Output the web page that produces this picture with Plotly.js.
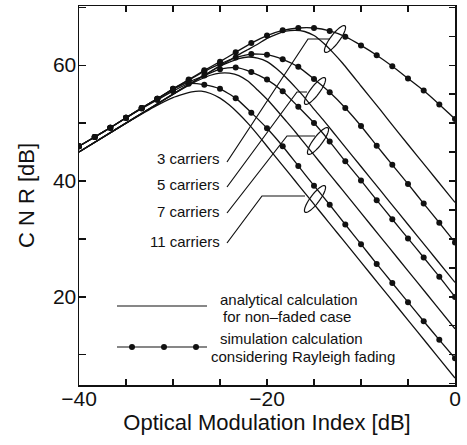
<!DOCTYPE html>
<html><head><meta charset="utf-8">
<script src="https://cdn.plot.ly/plotly-3.0.1.min.js"></script>
<style>html,body{margin:0;padding:0;background:#fff}</style>
</head><body><div id="chart" style="width:467px;height:445px"></div>
<script>
// ---- data ----
const xSim = [-40, -38.33, -36.67, -35, -33.33, -31.67, -30, -28.33, -26.67, -25, -23.33, -21.67, -20, -18.33, -16.67, -15, -13.33, -11.67, -10, -8.33, -6.67, -5, -3.33, -1.67, 0];
const sim3  = [46.0, 47.6, 49.2, 50.9, 52.6, 54.2, 55.9, 57.5, 59.1, 60.6, 62.2, 63.8, 65.1, 66.0, 66.4, 66.4, 65.9, 64.9, 63.4, 61.7, 59.8, 57.7, 55.6, 53.2, 50.7];
const sim5  = [46.0, 47.6, 49.2, 50.9, 52.6, 54.2, 55.9, 57.4, 58.9, 60.2, 61.3, 61.9, 61.8, 61.0, 59.7, 57.6, 55.3, 52.6, 49.5, 46.1, 42.8, 39.5, 36.1, 32.8, 29.4];
const sim7  = [46.0, 47.6, 49.2, 50.9, 52.6, 54.2, 55.8, 57.1, 58.2, 59.3, 59.6, 58.8, 57.5, 55.5, 52.8, 50.0, 46.8, 43.4, 40.1, 36.7, 33.4, 30.1, 26.8, 23.5, 20.0];
const sim11 = [46.0, 47.6, 49.2, 50.9, 52.5, 54.0, 55.5, 56.8, 56.6, 55.9, 54.3, 51.8, 49.1, 46.0, 42.6, 39.2, 35.9, 32.5, 29.1, 25.7, 22.4, 19.1, 15.8, 12.6, 9.4];

const xAna = [-40, -36, -32, -30, -28, -27, -26, -25, -24, -23, -22, -21, -20, -19, -18, -17, -16, -15, -14, -13, -12, -10, -8, -6, -4, -2, 0];
const ana3  = [45, 49, 53, 55, 57, 57.95, 58.9, 59.9, 60.8, 61.8, 62.7, 63.6, 64.6, 65.3, 65.85, 66.0, 65.8, 65.1, 63.8, 62.2, 60.4, 56.4, 52.4, 48.3, 44.3, 40.3, 36.3];
const ana5  = [45, 49, 53, 55, 56.95, 57.9, 58.9, 59.8, 60.5, 61.1, 61.4, 61.2, 60.6, 59.4, 57.9, 56.2, 54.4, 52.4, 50.5, 48.5, 46.5, 42.5, 38.5, 34.5, 30.5, 26.5, 22.5];
const ana7  = [45, 49, 52.95, 54.95, 56.8, 57.6, 58.25, 58.6, 58.6, 58.2, 57.2, 55.7, 54.1, 52.3, 50.4, 48.5, 46.5, 44.5, 42.5, 40.5, 38.5, 34.5, 30.5, 26.5, 22.5, 18.5, 14.5];
const ana11 = [45, 49, 52.8, 54.4, 55.4, 55.5, 55.1, 54.3, 53.1, 51.6, 49.9, 48.0, 46.0, 44.0, 42.0, 40.0, 38.0, 36.0, 34.0, 32.0, 30.0, 26.0, 22.0, 18.0, 14.0, 10.0, 6.0];

const carrierLabels = ['3 carriers', '5 carriers', '7 carriers', '11 carriers'];
const legendText = ['analytical calculation', 'for non\u2013faded case', 'simulation calculation', 'considering Rayleigh fading'];
const xTickVals = [-40, -35, -30, -25, -20, -15, -10, -5, 0];
const xTickText = ['\u221240', '', '', '', '\u221220', '', '', '', '0'];
const yTickVals = [10, 20, 30, 40, 50, 60, 70];
const yTickText = ['', '20', '', '40', '', '60', ''];
const yRightTicks = [5, 10, 15, 20, 25, 30, 35, 40, 45, 50, 55, 60, 65, 70];

// ---- geometry helpers (decorations only) ----
const W = 467, H = 445;
const L = 79, R = 455, T = 6, B = 385;
const XR = [-40, 0], YR = [4.8, 70.2];
function dx(px) { return XR[0] + (px - L) * (XR[1] - XR[0]) / (R - L); }
function dy(py) { return YR[1] - (py - T) * (YR[1] - YR[0]) / (B - T); }
function ellipsePath(cx, cy, a, b, deg) {
  const th = deg * Math.PI / 180;
  const pts = [];
  for (let i = 0; i < 48; i++) {
    const t = 2 * Math.PI * i / 48;
    const ex = a * Math.cos(t), ey = b * Math.sin(t);
    const px = cx + ex * Math.cos(th) - ey * Math.sin(th);
    const py = cy - (ex * Math.sin(th) + ey * Math.cos(th));
    pts.push(dx(px).toFixed(3) + ',' + dy(py).toFixed(3));
  }
  return 'M' + pts.join('L') + 'Z';
}
function polyPath(list) {
  return 'M' + list.map(p => dx(p[0]).toFixed(3) + ',' + dy(p[1]).toFixed(3)).join('L');
}

const FONT = 'Liberation Sans, Arial, Helvetica, sans-serif';
const lineStyle = {color: '#111', width: 1.3};

function simTrace(y) {
  return {x: xSim, y: y, type: 'scatter', mode: 'lines+markers', line: Object.assign({shape: 'spline', smoothing: 0.5}, lineStyle),
          marker: {color: '#111', size: 6}, hoverinfo: 'skip', showlegend: false};
}
function anaTrace(y, axis) {
  return {x: xAna, y: y, type: 'scatter', mode: 'lines', line: Object.assign({shape: 'spline', smoothing: 0.5}, lineStyle),
          hoverinfo: 'skip', showlegend: false, yaxis: axis || 'y'};
}

const data = [
  anaTrace(ana3, 'y2'), anaTrace(ana5), anaTrace(ana7), anaTrace(ana11),
  simTrace(sim3), simTrace(sim5), simTrace(sim7), simTrace(sim11)
];

const shapes = [];
const annotations = [];
const blk = {color: '#111', width: 1.2};
// ellipses
[[335, 39], [315, 91], [318, 141], [315, 199]].forEach(c => {
  shapes.push({type: 'path', xref: 'x', yref: 'y', path: ellipsePath(c[0], c[1], 16.5, 4.5, 53), line: blk});
});
// leader lines
const leaders = [
  [[227, 162], [308, 39], [330, 39]],
  [[227, 187], [297, 92], [307, 92]],
  [[227, 213], [287, 136], [315, 136]],
  [[227, 243], [262, 196], [305, 196]]
];
leaders.forEach(l => shapes.push({type: 'path', xref: 'x', yref: 'y', path: polyPath(l), line: blk}));
// carrier labels
const labelY = [158, 184, 211, 241];
carrierLabels.forEach((t, i) => annotations.push({
  text: t, x: dx(222), y: dy(labelY[i]), xref: 'x', yref: 'y', xanchor: 'right', yanchor: 'middle',
  showarrow: false, font: {family: FONT, size: 15, color: '#111'}
}));
// legend samples
shapes.push({type: 'line', xref: 'x', yref: 'y', x0: dx(117), x1: dx(207), y0: dy(306), y1: dy(306), line: blk});
shapes.push({type: 'line', xref: 'x', yref: 'y', x0: dx(117), x1: dx(207), y0: dy(347), y1: dy(347), line: blk});
[132, 164, 196].forEach(px => shapes.push({
  type: 'circle', xref: 'x', yref: 'y', xsizemode: 'pixel', ysizemode: 'pixel',
  xanchor: dx(px), yanchor: dy(347), x0: -3, x1: 3, y0: -3, y1: 3,
  fillcolor: '#111', line: {color: '#111', width: 0}
}));
const legPos = [[218, 299], [221, 316], [218, 338], [209, 356]];
legendText.forEach((t, i) => annotations.push({
  text: t, x: dx(legPos[i][0]), y: dy(legPos[i][1]), xref: 'x', yref: 'y', xanchor: 'left', yanchor: 'middle',
  showarrow: false, font: {family: FONT, size: 15, color: '#111'}
}));

const axisCommon = {showgrid: false, zeroline: false, ticks: 'inside', tickcolor: '#111', linecolor: '#111', linewidth: 1.5,
                    tickfont: {family: FONT, size: 21, color: '#111'}};
const layout = {
  width: W, height: H,
  margin: {l: L, r: W - R, t: T, b: H - B, pad: 0},
  paper_bgcolor: '#fff', plot_bgcolor: '#fff',
  font: {family: FONT, color: '#111'},
  showlegend: false,
  xaxis: Object.assign({}, axisCommon, {
    range: XR, tickmode: 'array', tickvals: xTickVals, ticktext: xTickText, ticklen: 6, tickwidth: 1.2,
    showline: true, mirror: 'ticks', ticklabelstandoff: -6,
    title: {text: 'Optical Modulation Index [dB]', font: {family: FONT, size: 22, color: '#111'}, standoff: 2}
  }),
  yaxis: Object.assign({}, axisCommon, {
    range: YR, tickmode: 'array', tickvals: yTickVals, ticktext: yTickText, ticklen: 7, tickwidth: 1.2,
    showline: true, mirror: false, ticklabelstandoff: -3,
    title: {text: 'C N R [dB]', font: {family: FONT, size: 22, color: '#111'}, standoff: 12}
  }),
  yaxis2: Object.assign({}, axisCommon, {
    range: YR, overlaying: 'y', side: 'right', tickmode: 'array', tickvals: yRightTicks, showticklabels: false,
    ticklen: 6, tickwidth: 1.2, showline: true
  }),
  shapes: shapes,
  annotations: annotations
};
Plotly.newPlot('chart', data, layout, {staticPlot: true, displayModeBar: false});
</script>
</body></html>
